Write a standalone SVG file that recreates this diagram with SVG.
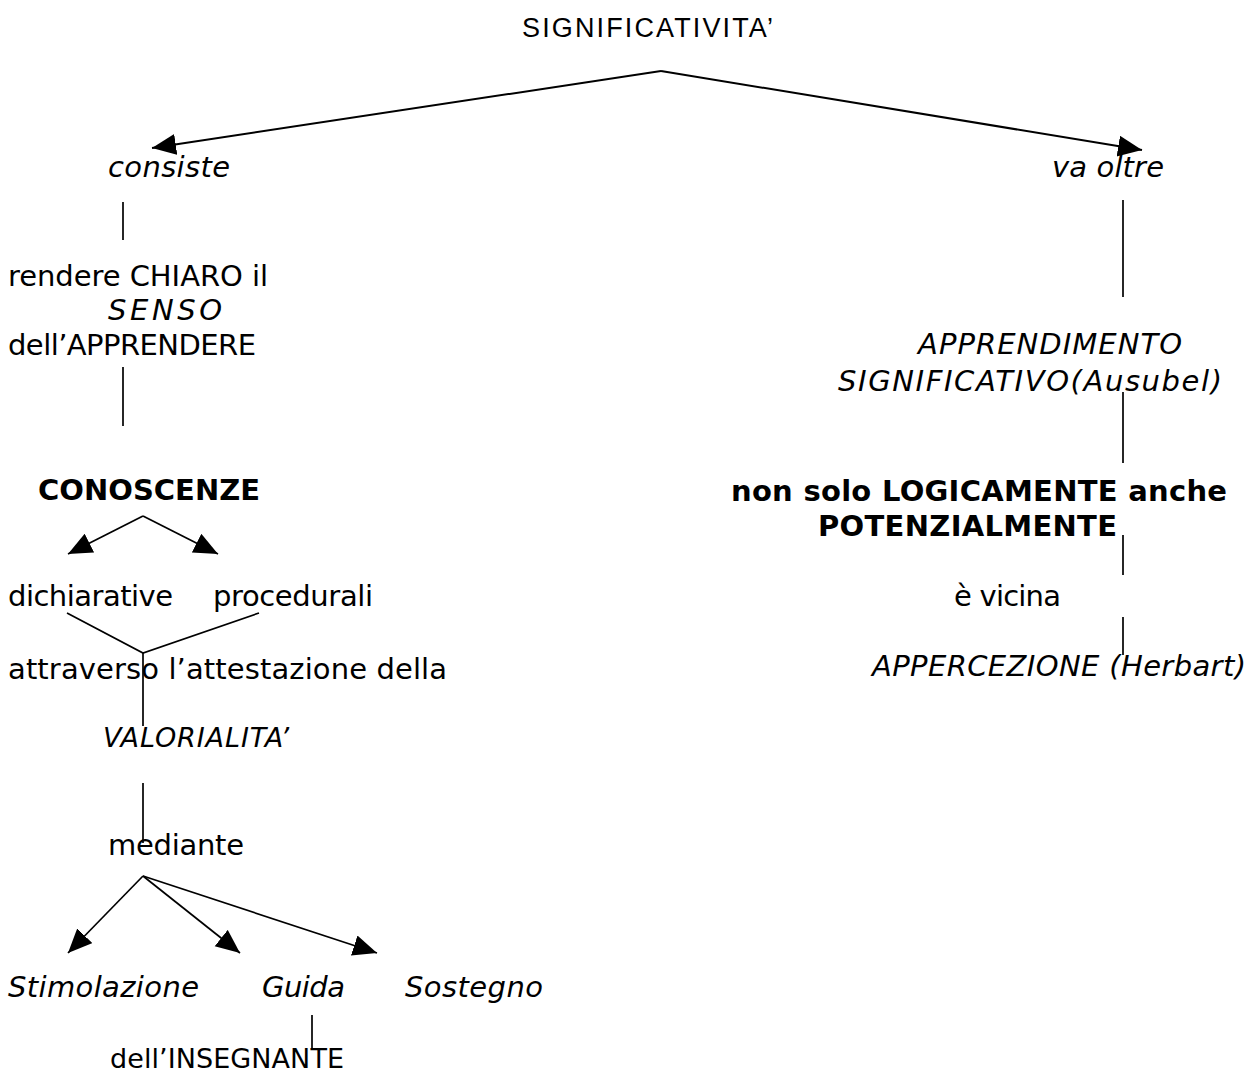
<svg xmlns="http://www.w3.org/2000/svg" width="1260" height="1077" viewBox="0 0 1260 1077">
<style>
text{font-family:"DejaVu Sans",Verdana,sans-serif;font-size:29px;fill:#000}
.n{font-family:"Liberation Sans",Arial,sans-serif;font-size:27px}
.s{font-size:27px}
.i{font-style:italic}
.b{font-weight:bold}
.ln{stroke:#000;stroke-width:1.7;fill:none}
.ar{marker-end:url(#ah)}
</style>
<defs>
<marker id="ah" markerUnits="userSpaceOnUse" markerWidth="28" markerHeight="24" refX="24" refY="10.5" orient="auto">
<path d="M0,0 L24,10.5 L0,21 z" fill="#000"/>
</marker>
</defs>
<rect width="1260" height="1077" fill="#fff"/>
<g id="connectors">
<line class="ln ar" x1="661" y1="71" x2="152" y2="148" style="stroke-width:2"/>
<line class="ln ar" x1="661" y1="71" x2="1142" y2="150" style="stroke-width:2"/>
<line class="ln" x1="123" y1="202" x2="123" y2="240"/>
<line class="ln" x1="123" y1="367" x2="123" y2="426"/>
<line class="ln ar" x1="143" y1="516" x2="68" y2="554"/>
<line class="ln ar" x1="143" y1="516" x2="218" y2="554"/>
<polyline class="ln" points="67,613 143,653 259,613"/>
<line class="ln" x1="143" y1="653" x2="143" y2="726"/>
<line class="ln" x1="143" y1="783" x2="143" y2="843"/>
<line class="ln ar" x1="143" y1="876" x2="68" y2="953"/>
<line class="ln ar" x1="143" y1="876" x2="240" y2="953"/>
<line class="ln ar" x1="143" y1="876" x2="377" y2="953"/>
<line class="ln" x1="312" y1="1015" x2="312" y2="1050"/>
<line class="ln" x1="1123" y1="200" x2="1123" y2="297"/>
<line class="ln" x1="1123" y1="392" x2="1123" y2="463"/>
<line class="ln" x1="1123" y1="535" x2="1123" y2="575"/>
<line class="ln" x1="1123" y1="617" x2="1123" y2="655"/>
</g>
<g id="n-significativita"><text class="n" x="522" y="37" textLength="251">SIGNIFICATIVITA’</text></g>
<g id="n-consiste"><text class="i" x="108" y="177" textLength="122">consiste</text></g>
<g id="n-vaoltre"><text class="i" x="1052" y="177" textLength="112">va oltre</text></g>
<g id="n-rendere">
<text x="8" y="286" textLength="260">rendere CHIARO il</text>
<text class="i" x="108" y="320" textLength="114">SENSO</text>
<text x="8" y="355" textLength="248">dell’APPRENDERE</text>
</g>
<g id="n-conoscenze"><text class="b" x="38" y="500" textLength="222">CONOSCENZE</text></g>
<g id="n-dichiarative"><text x="8" y="606" textLength="165">dichiarative</text></g>
<g id="n-procedurali"><text x="213" y="606" textLength="160">procedurali</text></g>
<g id="n-attraverso"><text x="8" y="679" textLength="439">attraverso l’attestazione della</text></g>
<g id="n-valorialita"><text class="i s" x="103" y="747" textLength="186">VALORIALITA’</text></g>
<g id="n-mediante"><text x="108" y="855" textLength="136">mediante</text></g>
<g id="n-stimolazione"><text class="i" x="8" y="997" textLength="191">Stimolazione</text></g>
<g id="n-guida"><text class="i" x="262" y="997" textLength="83">Guida</text></g>
<g id="n-sostegno"><text class="i" x="405" y="997" textLength="138">Sostegno</text></g>
<g id="n-insegnante"><text class="s" x="110" y="1068" textLength="234">dell’INSEGNANTE</text></g>
<g id="n-apprendimento">
<text class="i" x="918" y="354" textLength="264">APPRENDIMENTO</text>
<text class="i" x="838" y="391" textLength="384">SIGNIFICATIVO(Ausubel)</text>
</g>
<g id="n-logicamente">
<text class="b" x="731" y="501" textLength="496">non solo LOGICAMENTE anche</text>
<text class="b" x="818" y="536" textLength="299">POTENZIALMENTE</text>
</g>
<g id="n-vicina"><text x="954" y="606" textLength="107">è vicina</text></g>
<g id="n-appercezione"><text class="i" x="872" y="676" textLength="374">APPERCEZIONE (Herbart)</text></g>
</svg>
